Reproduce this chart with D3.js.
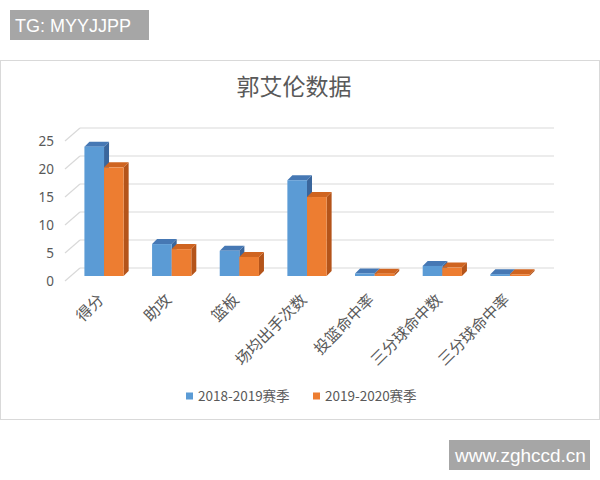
<!DOCTYPE html>
<html>
<head>
<meta charset="utf-8">
<script src="https://cdn.jsdelivr.net/npm/d3@7"></script>
<style>
  body { margin: 0; background: #fff; }
  text { font-family: "Noto Sans CJK SC", "Noto Sans", sans-serif; }
</style>
</head>
<body>
<div id="chart"></div>
<script>
const categories = ['得分', '助攻', '篮板', '场均出手次数', '投篮命中率', '三分球命中数', '三分球命中率']
const seriesNames = ['2018-2019赛季', '2019-2020赛季']
const season1819 = [23.1, 5.7, 4.5, 17.1, 0.45, 1.8, 0.33]
const season1920 = [19.4, 4.8, 3.4, 14.1, 0.42, 1.5, 0.31]
const yTicks = [0, 5, 10, 15, 20, 25]

const width = 600, height = 480
const depth = {x: 5, y: -5}      // bar side/top depth
const wall = {x: 15, y: -13}     // back plane offset vs front labels

const colors = [
  {front: '#5b9bd5', top: '#4678b4', side: '#3a669c'},
  {front: '#ed7d31', top: '#cf6420', side: '#b4541a'}
]

const svg = d3.select('#chart').append('svg')
  .attr('width', width)
  .attr('height', height)

// watermark top-left
svg.append('rect').attr('x', 10).attr('y', 10).attr('width', 139).attr('height', 30).attr('fill', '#a6a6a6')
svg.append('text').attr('x', 15).attr('y', 32)
  .style('font-family', '"Liberation Sans", Arial, sans-serif')
  .attr('font-size', 18).attr('fill', '#fff').text('TG: MYYJJPP')

// chart frame
svg.append('rect').attr('x', 0.5).attr('y', 60.5).attr('width', 599).attr('height', 359)
  .attr('fill', '#fff').attr('stroke', '#d9d9d9')

svg.append('text').attr('x', 294).attr('y', 95)
  .attr('text-anchor', 'middle').attr('font-size', 23).attr('fill', '#595959')
  .text('郭艾伦数据')

// back plane scale
const y = d3.scaleLinear().domain([0, 25]).range([268, 128])
const frontShift = 8

const x = d3.scaleBand().domain(categories).range([56, 558]).padding(0.42)
const xs = d3.scaleBand().domain(seriesNames).range([0, x.bandwidth()])

// gridlines on back wall + slanted left wall lines
const grid = svg.append('g').attr('stroke', '#d9d9d9').attr('stroke-width', 1.2).attr('fill', 'none')
grid.selectAll('line.h').data(yTicks).join('line').attr('class', 'h')
  .attr('x1', 80).attr('x2', 554)
  .attr('y1', d => y(d)).attr('y2', d => y(d))
grid.selectAll('line.s').data(yTicks).join('line').attr('class', 's')
  .attr('x1', 80 - wall.x).attr('x2', 80)
  .attr('y1', d => y(d) - wall.y).attr('y2', d => y(d))

// y axis labels
svg.append('g')
  .attr('transform', 'translate(54,' + (-wall.y) + ')')
  .call(d3.axisLeft(y).tickValues(yTicks).tickSize(0).tickPadding(0))
  .call(g => g.select('.domain').remove())
  .call(g => g.selectAll('text').attr('font-size', 13.5).attr('fill', '#595959')
    .style('font-family', '"Noto Sans", sans-serif'))

// bars
const rows = []
categories.forEach((c, i) => {
  rows.push({cat: c, s: 0, v: season1819[i]})
  rows.push({cat: c, s: 1, v: season1920[i]})
})
// orange (right) drawn after blue so its front covers blue's side
const bars = svg.append('g').selectAll('g').data(rows).join('g')
bars.each(function (d) {
  const g = d3.select(this)
  const x0 = x(d.cat) + xs(seriesNames[d.s])
  const w = xs.bandwidth()
  const top = y(d.v) + frontShift
  const base = y(0) + frontShift
  const col = colors[d.s]
  g.append('path')
    .attr('d', `M${x0 + w},${top} l${depth.x},${depth.y} L${x0 + w + depth.x},${base + depth.y} L${x0 + w},${base}Z`)
    .attr('fill', col.side)
  g.append('path')
    .attr('d', `M${x0},${top} l${depth.x},${depth.y} l${w},0 l${-depth.x},${-depth.y}Z`)
    .attr('fill', col.top)
  g.append('rect').attr('x', x0).attr('y', top).attr('width', w).attr('height', base - top)
    .attr('fill', col.front)
})

// category labels
svg.append('g').selectAll('text').data(categories).join('text')
  .attr('transform', d => 'translate(' + (x(d) + x.bandwidth() / 2 - 7) + ',293) rotate(-45)')
  .attr('text-anchor', 'end')
  .attr('dy', '0.7em')
  .attr('font-size', 15.5)
  .attr('fill', '#595959')
  .text(d => d)

// legend
const legendX = [186, 313]
const legend = svg.append('g').selectAll('g').data(seriesNames).join('g')
  .attr('transform', (d, i) => 'translate(' + legendX[i] + ',396)')
legend.append('rect').attr('x', 0).attr('y', -3.5).attr('width', 7).attr('height', 7)
  .attr('fill', (d, i) => colors[i].front)
legend.append('text').attr('x', 12).attr('dy', '0.35em')
  .attr('font-size', 13.5).attr('fill', '#595959').text(d => d)

// watermark bottom-right
svg.append('rect').attr('x', 449).attr('y', 440).attr('width', 141).attr('height', 30).attr('fill', '#a6a6a6')
svg.append('text').attr('x', 455).attr('y', 462)
  .style('font-family', '"Liberation Sans", Arial, sans-serif')
  .attr('font-size', 19).attr('fill', '#fff').text('www.zghccd.cn')
</script>
</body>
</html>
